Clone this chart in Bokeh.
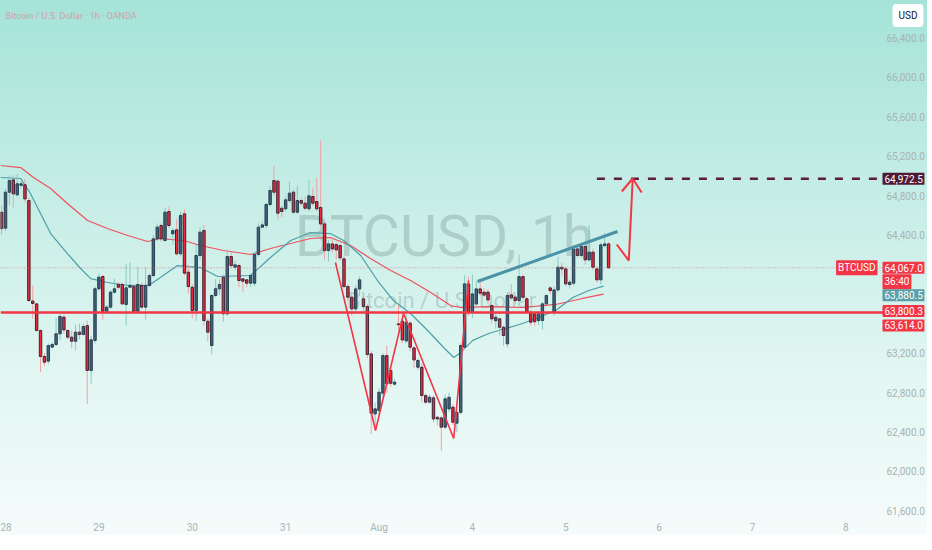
from bokeh.plotting import figure
from bokeh.models import ColumnDataSource, FixedTicker, NumeralTickFormatter, Label, Span, Range1d
from bokeh.embed import file_html
from bokeh.resources import INLINE

# ---------------- data (hourly candles, index 0 = Jul 28 00:00) ----------------
idx = list(range(-1, 156))
opens = [64630, 64470, 64835, 64960, 64808, 64905, 64910, 64750, 63730, 63701,
         63431, 63167, 63120, 63262, 63289, 63397, 63566, 63431, 63363, 63322,
         63414, 63390, 63480, 63025, 63330, 63854, 63979, 63627, 63668, 63820,
         63898, 63898, 63695, 63870, 63878, 63627, 63888, 63668, 63888, 63989,
         64361, 64497, 64344, 64639, 64412, 64453, 64209, 64615, 64023, 63870,
         63634, 64192, 64446, 63525, 63278, 63786, 63854, 63972, 63600, 64182,
         64073, 64090, 63955, 63945, 63911, 63911, 64202, 64480, 64497, 64710,
         64953, 64947, 64672, 64666, 64750, 64835, 64632, 64750, 64723, 64666,
         64791, 64740, 64680, 64513, 64242, 64310, 64303, 64293, 64158, 63877,
         63769, 63650, 63853, 63752, 63674, 63193, 62584, 62618, 62794, 63176,
         63024, 62886, 63498, 63525, 63325, 63505, 63254, 63058, 63058, 62770,
         62703, 62747, 62550, 62543, 62449, 62635, 62652, 62490, 62600, 63261,
         63904, 63616, 63700, 63853, 63820, 63820, 63684, 63530, 63549, 63464,
         63295, 63792, 63769, 63735, 63978, 63752, 63616, 63600, 63532, 63532,
         63701, 63863, 63616, 63843, 64073, 64056, 63897, 63911, 64259, 64192,
         64283, 64148, 64226, 64056, 63945, 64293, 64310]
highs = [64700, 64870, 65005, 65005, 65020, 64950, 64970, 64780, 63888, 63710,
         63440, 63200, 63300, 63310, 63560, 63600, 63590, 63440, 63430, 63490,
         63500, 63500, 63530, 63380, 63880, 64010, 64000, 63690, 63840, 63955,
         63920, 63920, 64107, 64124, 63900, 64073, 63920, 64073, 64010, 64400,
         64520, 64520, 64680, 64690, 64470, 64560, 64640, 64660, 64100, 63900,
         64300, 64480, 64500, 63550, 63800, 63950, 63950, 64000, 64250, 64230,
         64140, 64110, 63960, 63950, 64010, 64230, 64520, 64540, 64730, 64900,
         65100, 64960, 64700, 64790, 64940, 64860, 64900, 64770, 64790, 64960,
         64880, 64980, 65360, 64530, 64350, 64360, 64330, 64310, 64180, 63900,
         63800, 63890, 63980, 63800, 63700, 63220, 62700, 62850, 63200, 63280,
         63060, 62940, 63690, 63560, 63590, 63530, 63270, 63150, 63100, 62790,
         62780, 62770, 62560, 62560, 62780, 62800, 62680, 62620, 63300, 63990,
         63980, 64000, 63930, 63950, 63860, 63850, 63700, 63600, 63560, 63480,
         63820, 63900, 63790, 64200, 64000, 63770, 63640, 63620, 63620, 63720,
         63800, 63880, 63880, 64180, 64120, 64080, 63950, 64300, 64280, 64300,
         64300, 64500, 64260, 64080, 64320, 64420, 64330]
lows = [64400, 64440, 64700, 64680, 64790, 64880, 64730, 63720, 63549, 63420,
        63008, 63070, 63090, 63250, 63270, 63330, 63400, 63340, 63250, 63230,
        63340, 63380, 62686, 62890, 63300, 63830, 63540, 63600, 63650, 63800,
        63850, 63690, 63481, 63860, 63610, 63600, 63650, 63540, 63870, 63970,
        64340, 64330, 64330, 64470, 64300, 64190, 64180, 63990, 63800, 63550,
        63530, 64150, 63480, 63320, 63190, 63770, 63790, 63520, 63580, 64060,
        64040, 63870, 63820, 63870, 63870, 63880, 64180, 64470, 64470, 64690,
        64800, 64560, 64580, 64640, 64730, 64610, 64620, 64700, 64650, 64640,
        64700, 64640, 64480, 64150, 64130, 64220, 64150, 64140, 63860, 63730,
        63580, 63610, 63780, 63600, 63150, 62380, 62450, 62560, 62760, 62800,
        62860, 62870, 63430, 63300, 63300, 63220, 63050, 63030, 62700, 62680,
        62690, 62500, 62470, 62210, 62430, 62600, 62470, 62400, 62580, 63240,
        63580, 63560, 63680, 63780, 63770, 63700, 63500, 63450, 63380, 63278,
        63260, 63740, 63700, 63720, 63740, 63600, 63480, 63480, 63490, 63440,
        63690, 63800, 63580, 63820, 63990, 63880, 63860, 63890, 64170, 64170,
        64100, 64130, 64050, 63920, 63900, 64270, 64060]
closes = [64465, 64835, 64953, 64818, 64920, 64920, 64767, 63735, 63705, 63431,
          63167, 63109, 63278, 63289, 63397, 63573, 63437, 63363, 63322, 63414,
          63390, 63471, 63025, 63336, 63854, 63972, 63627, 63668, 63820, 63854,
          63870, 63701, 63864, 63888, 63627, 63898, 63668, 63888, 63989, 64361,
          64480, 64361, 64632, 64497, 64445, 64209, 64598, 64013, 63877, 63634,
          64192, 64429, 63532, 63414, 63786, 63854, 63898, 63600, 64182, 64090,
          64097, 63938, 63931, 63911, 63989, 64202, 64480, 64503, 64710, 64852,
          64835, 64622, 64639, 64757, 64825, 64632, 64750, 64723, 64672, 64798,
          64723, 64666, 64513, 64242, 64310, 64259, 64249, 64168, 63877, 63769,
          63650, 63853, 63945, 63674, 63187, 62591, 62635, 62804, 63176, 62889,
          62895, 62906, 63490, 63335, 63515, 63261, 63132, 63126, 62770, 62703,
          62753, 62533, 62533, 62449, 62737, 62753, 62500, 62600, 63278, 63904,
          63616, 63802, 63853, 63809, 63790, 63741, 63549, 63565, 63464, 63380,
          63786, 63762, 63735, 63978, 63769, 63616, 63515, 63520, 63600, 63701,
          63785, 63836, 63843, 64073, 64056, 63904, 63921, 64259, 64192, 64283,
          64148, 64226, 64073, 63945, 64300, 64310, 64067]

# moving averages
ema_fast_i = [-1.3, 3.9, 6.4, 9.0, 11.6, 15.9, 19.3, 21.9, 26.2, 31.4, 36.8, 39.8, 44.2,
              50.1, 54.5, 63.0, 68.1, 73.3, 78.4, 83.5, 86.9, 91.3, 95.6, 99.7, 104.1,
              108.5, 112.6, 115.2, 117.0, 120.1, 124.2, 128.5, 132.9, 137.0, 141.4,
              145.8, 149.9, 153.7]
ema_fast_v = [64984, 64974, 64822, 64618, 64415, 64212, 64060, 63958, 63918, 63888, 63888,
              63969, 64090, 64070, 63979, 63989, 64172, 64344, 64425, 64415, 64344, 64192,
              63938, 63735, 63603, 63431, 63258, 63157, 63208, 63330, 63400, 63451, 63502,
              63563, 63634, 63766, 63837, 63880.5]
ema_slow_i = [-1.3, 3.9, 7.2, 11.6, 15.9, 21.1, 26.2, 31.4, 36.5, 39.8, 45.8, 50.1, 56.0,
              63.0, 68.1, 73.3, 78.4, 83.5, 88.7, 93.8, 99.0, 104.1, 109.3, 114.4, 117.0,
              124.2, 132.9, 141.4, 148.3, 153.7]
ema_slow_v = [65106, 65085, 64984, 64872, 64720, 64547, 64466, 64395, 64334, 64365, 64344,
              64294, 64243, 64202, 64263, 64314, 64365, 64375, 64294, 64162, 64040, 63938,
              63816, 63684, 63664, 63674, 63664, 63695, 63756, 63800.3]

# drawings
w_i = [84.8, 95.1, 102.3, 115.2, 119.0]
w_p = [64121, 62415, 63603, 62334, 63938]
trend_i = [121.3, 157.3]
trend_p = [63928, 64436]
arrow_i = [157.1, 160.2, 161.2]
arrow_p = [64304, 64141, 64974]
head_i = [158.4, 161.2, 163.5]
head_p = [64842, 64974, 64832]
target_start = 152
target_end = 226.2
target_price = 64972.5
support_price = 63614.0
last_price = 64067.0
fast_last = 63880.5
slow_last = 63800.3

x_tick_pos = [0, 24, 48, 72, 96, 120, 144, 168, 192, 216]
x_tick_lab = ["28", "29", "30", "31", "Aug", "4", "5", "6", "7", "8"]
y_ticks = [61600, 62000, 62400, 62800, 63200, 64400, 64800, 65200, 65600, 66000, 66400]

FW, FH = 924, 512
X0, X1 = -1.29, 236.2
Y1 = 66781
Y0 = 61583

FONT = "Roboto"

# ---------------- figure ----------------
p = figure(frame_width=FW, frame_height=FH, output_backend="svg", toolbar_location=None,
           x_range=Range1d(X0, X1), y_range=Range1d(Y0, Y1), y_axis_location="right",
           min_border_left=0, min_border_top=0, min_border_right=0, min_border_bottom=0)
p.styles = {"background": "linear-gradient(to bottom, #a5e3d8 0%, #c4ede5 35%, #e2f6f2 70%, #f5fcfb 100%)"}
p.background_fill_alpha = 0
p.border_fill_alpha = 0
p.outline_line_color = None
p.grid.visible = False

p.xaxis.ticker = FixedTicker(ticks=x_tick_pos)
p.xaxis.major_label_overrides = {k: v for k, v in zip(x_tick_pos, x_tick_lab)}
p.yaxis.ticker = FixedTicker(ticks=y_ticks)
p.yaxis.formatter = NumeralTickFormatter(format="0,0.0")
for ax in (p.xaxis, p.yaxis):
    ax.axis_line_color = None
    ax.major_tick_line_color = None
    ax.minor_tick_line_color = None
    ax.major_tick_in = 0
    ax.major_tick_out = 0
    ax.major_label_text_color = "#a8b3b2"
    ax.major_label_text_font = FONT
    ax.major_label_text_font_size = "10px"
p.yaxis.major_label_standoff = -38
p.xaxis.major_label_standoff = 9

# watermark / title
p.add_layout(Label(x=444, y=FH - 236, x_units="screen", y_units="screen",
                   text="BTCUSD, 1h", text_font=FONT, text_font_size="57px",
                   text_color="#7d9896", text_alpha=0.38, text_align="center",
                   text_baseline="middle", level="underlay"))
p.add_layout(Label(x=441, y=FH - 300, x_units="screen", y_units="screen",
                   text="Bitcoin / U.S. Dollar", text_font=FONT, text_font_size="22px",
                   text_color="#7d9896", text_alpha=0.38, text_align="center",
                   text_baseline="middle", level="underlay"))
p.add_layout(Label(x=5, y=FH - 15, x_units="screen", y_units="screen",
                   text="Bitcoin / U.S. Dollar · 1h · OANDA", text_font=FONT,
                   text_font_size="9px", text_color="#cfa1aa", text_baseline="middle"))

# horizontal levels
p.add_layout(Span(location=last_price, dimension="width", line_color="#e0707a",
                  line_dash="1 2", line_width=1, line_alpha=0.8))
p.add_layout(Span(location=support_price, dimension="width", line_color="#f23645", line_width=2.5))
p.segment(x0=[target_start], y0=[target_price], x1=[target_end], y1=[target_price],
          line_color="#5a1d3d", line_width=2.5, line_dash="8 9")

# moving averages
p.line(ema_slow_i, ema_slow_v, line_color="#f0505e", line_width=1.2)
p.line(ema_fast_i, ema_fast_v, line_color="#4b9fa8", line_width=1.2)

# candles
bull = [c >= o for o, c in zip(opens, closes)]
def src(flag):
    sel = [k for k in range(len(idx)) if bull[k] == flag]
    return ColumnDataSource(dict(
        x=[idx[k] for k in sel],
        top=[max(opens[k], closes[k]) for k in sel],
        bot=[min(opens[k], closes[k]) for k in sel],
        hi=[highs[k] for k in sel],
        lo=[lows[k] for k in sel]))
sb, sr = src(True), src(False)
p.segment(x0="x", y0="lo", x1="x", y1="hi", source=sb, line_color="#86cbc3", line_width=1)
p.segment(x0="x", y0="lo", x1="x", y1="hi", source=sr, line_color="#f0a0a6", line_width=1)
p.vbar(x="x", top="top", bottom="bot", width=0.62, source=sb, fill_color="#41637a",
       line_color="#2a3d4e", line_width=1)
p.vbar(x="x", top="top", bottom="bot", width=0.62, source=sr, fill_color="#f0283c",
       line_color="#3c2636", line_width=1)

# drawings
p.line(w_i, w_p, line_color="#f23645", line_width=1.6)
p.line(trend_i, trend_p, line_color="#4a93a8", line_width=3)
p.line(arrow_i, arrow_p, line_color="#f23645", line_width=2)
p.line(head_i, head_p, line_color="#f23645", line_width=2)

# price-scale tags
TAG_X = 882
def tag(y, text, bg, dy=0, x=TAG_X, align="left", color="white"):
    p.add_layout(Label(x=x, y=y, x_units="screen", y_units="data", y_offset=dy, text=text,
                       text_font=FONT, text_font_size="10px", text_color=color,
                       text_align=align, text_baseline="middle",
                       background_fill_color=bg, padding=2, border_radius=1))

tag(target_price, "64,972.5", "#4e1a36")
tag(last_price, "64,067.0", "#f23645")
tag(last_price, "36:40", "#f23645", dy=-14)
tag(fast_last, "63,880.5", "#5b9ea7", dy=-9)
tag(slow_last, "63,800.3", "#f23645", dy=-17)
tag(support_price, "63,614.0", "#f23645", dy=-13)
tag(last_price, "BTCUSD", "#f23645", x=TAG_X - 5, align="right")
p.add_layout(Label(x=892, y=FH - 15, x_units="screen", y_units="screen", text="USD",
                   text_font=FONT, text_font_size="10px", text_color="#131722",
                   text_baseline="middle", background_fill_color="white", padding=6,
                   border_radius=4))

open("out.html", "w").write(file_html(p, INLINE))
